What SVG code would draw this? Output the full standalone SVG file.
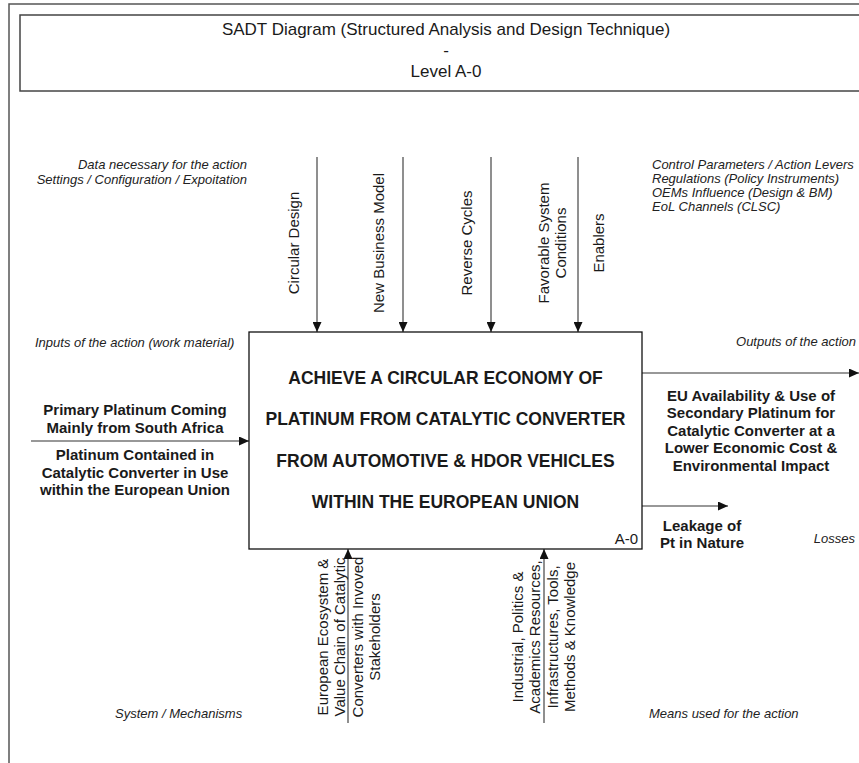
<svg xmlns="http://www.w3.org/2000/svg" width="859" height="763" viewBox="0 0 859 763">
<style>
text{font-family:"Liberation Sans",Arial,Helvetica,sans-serif;fill:#1a1a1a}
.it{font-size:13px;font-style:italic;fill:#222}
.lbl{font-size:15px}
.bold{font-size:15px;font-weight:bold}
.main{font-size:17.5px;font-weight:bold}
.title{font-size:17px}
.mid{text-anchor:middle}
.end{text-anchor:end}
.conn{stroke:#333;stroke-width:1.1;fill:none;marker-end:url(#arr)}
</style>
<defs>
<marker id="arr" markerUnits="userSpaceOnUse" markerWidth="10" markerHeight="9" refX="10" refY="4.5" orient="auto">
<path d="M0,0 L10,4.5 L0,9 z" fill="#111"/>
</marker>
</defs>
<rect x="0" y="0" width="859" height="763" fill="#fff"/>
<g id="frame">
<rect x="9" y="4" width="900" height="800" fill="none" stroke="#555" stroke-width="1.5"/>
</g>
<g id="title">
<rect x="20" y="15" width="845" height="76" fill="none" stroke="#444" stroke-width="1.5"/>
<text class="title mid" x="446" y="35">SADT Diagram (Structured Analysis and Design Technique)</text>
<text class="title mid" x="446" y="56">-</text>
<text class="title mid" x="446" y="77">Level A-0</text>
</g>
<g id="annotations">
<text class="it end" x="247" y="169">Data necessary for the action</text>
<text class="it end" x="247" y="183.5">Settings / Configuration / Expoitation</text>
<text class="it" x="652" y="169">Control Parameters / Action Levers</text>
<text class="it" x="652" y="183">Regulations (Policy Instruments)</text>
<text class="it" x="652" y="197">OEMs Influence (Design &amp; BM)</text>
<text class="it" x="652" y="211">EoL Channels (CLSC)</text>
<text class="it" x="35" y="347">Inputs of the action (work material)</text>
<text class="it end" x="856" y="346">Outputs of the action</text>
<text class="it end" x="855" y="543">Losses</text>
<text class="it" x="115" y="718">System / Mechanisms</text>
<text class="it" x="649" y="718">Means used for the action</text>
</g>
<g id="connectors">
<line class="conn" x1="317" y1="157" x2="317" y2="332"/>
<line class="conn" x1="403" y1="157" x2="403" y2="332"/>
<line class="conn" x1="491" y1="157" x2="491" y2="332"/>
<line class="conn" x1="578" y1="157" x2="578" y2="332"/>
<line class="conn" x1="31" y1="441" x2="249" y2="441"/>
<line class="conn" x1="642" y1="373" x2="859" y2="373"/>
<line class="conn" x1="642" y1="506" x2="728" y2="506"/>
<line class="conn" x1="348" y1="723" x2="348" y2="549"/>
<line class="conn" x1="544" y1="723" x2="544" y2="549"/>
</g>
<g id="main-box">
<rect x="249" y="332" width="393" height="217" fill="#fff" stroke="#111" stroke-width="1.3"/>
<text class="main mid" x="445.5" y="383.5">ACHIEVE A CIRCULAR ECONOMY OF</text>
<text class="main mid" x="445.5" y="425">PLATINUM FROM CATALYTIC CONVERTER</text>
<text class="main mid" x="445.5" y="466.5">FROM AUTOMOTIVE &amp; HDOR VEHICLES</text>
<text class="main mid" x="445.5" y="508">WITHIN THE EUROPEAN UNION</text>
<text class="lbl end" x="638" y="543.5">A-0</text>
</g>
<g id="controls" transform="translate(0,243) rotate(-90)">
<text class="lbl mid" x="0" y="298.5">Circular Design</text>
<text class="lbl mid" x="0" y="383.5">New Business Model</text>
<text class="lbl mid" x="0" y="472">Reverse Cycles</text>
<text class="lbl mid" x="0" y="548.5">Favorable System</text>
<text class="lbl mid" x="0" y="566">Conditions</text>
<text class="lbl mid" x="0" y="603.5">Enablers</text>
</g>
<g id="inputs">
<text class="bold mid" x="135" y="415">Primary Platinum Coming</text>
<text class="bold mid" x="135" y="432.5">Mainly from South Africa</text>
<text class="bold mid" x="135" y="460">Platinum Contained in</text>
<text class="bold mid" x="135" y="477.5">Catalytic Converter in Use</text>
<text class="bold mid" x="135" y="495">within the European Union</text>
</g>
<g id="outputs">
<text class="bold mid" x="751" y="400.5">EU Availability &amp; Use of</text>
<text class="bold mid" x="751" y="418">Secondary Platinum for</text>
<text class="bold mid" x="751" y="435.5">Catalytic Converter at a</text>
<text class="bold mid" x="751" y="453">Lower Economic Cost &amp;</text>
<text class="bold mid" x="751" y="470.5">Environmental Impact</text>
</g>
<g id="losses">
<text class="bold mid" x="702" y="530.5">Leakage of</text>
<text class="bold mid" x="702" y="548">Pt in Nature</text>
</g>
<g id="mechanism-left" transform="translate(0,637) rotate(-90)">
<text class="lbl mid" x="0" y="327.5">European Ecosystem &amp;</text>
<text class="lbl mid" x="0" y="345">Value Chain of Catalytic</text>
<text class="lbl mid" x="0" y="362.5">Converters with Invoved</text>
<text class="lbl mid" x="0" y="380">Stakeholders</text>
</g>
<g id="mechanism-right" transform="translate(0,637) rotate(-90)">
<text class="lbl mid" x="0" y="522.5">Industrial, Politics &amp;</text>
<text class="lbl mid" x="0" y="540">Academics Resources,</text>
<text class="lbl mid" x="0" y="557.5">Infrastructures, Tools,</text>
<text class="lbl mid" x="0" y="575">Methods &amp; Knowledge</text>
</g>
</svg>
